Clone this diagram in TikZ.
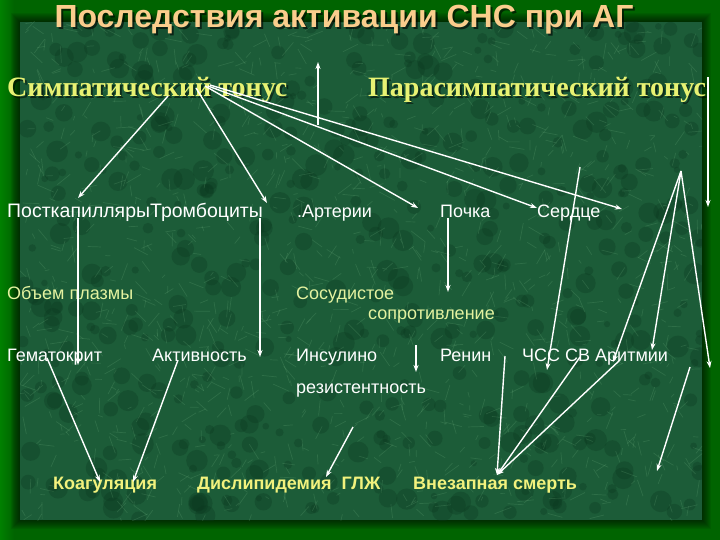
\documentclass[tikz,border=0pt]{standalone}
\usepackage{fontspec}
\setmainfont{Liberation Sans}
\newfontfamily\timesf{Liberation Serif}
\usetikzlibrary{arrows.meta}
\definecolor{bggreen}{RGB}{0,100,0}
\definecolor{marble}{RGB}{28,92,56}
\definecolor{marblelight}{RGB}{120,185,135}
\definecolor{marbledark}{RGB}{10,55,30}
\definecolor{titlec}{RGB}{250,205,140}
\definecolor{tonec}{RGB}{232,242,115}
\definecolor{palec}{RGB}{228,242,160}
\definecolor{boldy}{RGB}{242,242,125}
\tikzset{
  conn/.style={draw=white,line width=1.4pt,-{Stealth[length=7pt,width=5pt]}},
  rowtxt/.style={anchor=base west,inner sep=0pt,text=white,font=\fontsize{18}{20}\selectfont},
  paletxt/.style={rowtxt,text=palec},
  boldtxt/.style={anchor=base west,inner sep=0pt,text=boldy,font=\fontsize{18}{20}\selectfont\bfseries},
  tonetxt/.style={anchor=base west,inner sep=0pt,text=tonec,font=\timesf\fontsize{28}{30}\selectfont\bfseries},
}
\begin{document}
\begin{tikzpicture}[x=1pt,y=-1pt]
\useasboundingbox (0,0) rectangle (720,540);
% background
\fill[bggreen] (0,0) rectangle (720,540);
\shade[left color={rgb,255:red,0;green,128;blue,0},right color=bggreen] (0,0) rectangle (14,540);
\foreach \i in {1,...,9}{
  \fill[black,opacity=0.07] (20-\i,22-\i) rectangle (702+\i,520+\i);
}
% marble panel
\fill[marble] (20,22) rectangle (702,520);
\begin{scope}
\clip (20,22) rectangle (702,520);
\pgfmathsetseed{12}
\foreach \i in {1,...,500}{
  \pgfmathsetmacro\xa{20+682*rnd}
  \pgfmathsetmacro\ya{22+498*rnd}
  \pgfmathsetmacro\rr{3+8*rnd}
  \fill[marbledark,opacity=0.3] (\xa,\ya) circle (\rr);
}
\foreach \i in {1,...,1300}{
  \pgfmathsetmacro\xa{20+682*rnd}
  \pgfmathsetmacro\ya{22+498*rnd}
  \pgfmathsetmacro\ang{360*rnd}
  \pgfmathsetmacro\len{4+14*rnd}
  \draw[marblelight,opacity=0.2,line width=0.7pt] (\xa,\ya) -- ++(\ang:\len);
}
\end{scope}
% title
\node[anchor=base,inner sep=0pt,text=black,opacity=0.6,font=\fontsize{32}{34}\selectfont\bfseries] at (346,30) {Последствия активации СНС при АГ};
\node (title) [anchor=base,inner sep=0pt,text=titlec,font=\fontsize{32}{34}\selectfont\bfseries] at (344,28) {Последствия активации СНС при АГ};
% headings
\node[tonetxt,text=black,opacity=0.5] at (9,99) {Симпатический тонус};
\node (symp) [tonetxt] at (7,97) {Симпатический тонус};
\node[tonetxt,text=black,opacity=0.5] at (370,99) {Парасимпатический тонус};
\node (para) [tonetxt] at (368,97) {Парасимпатический тонус};
% row 2
\node (postk) [rowtxt,font=\fontsize{19.5}{21}\selectfont] at (7,218) {ПосткапиллярыТромбоциты};
\node (arter) [rowtxt] at (297,218) {.Артерии};
\node (pochka) [rowtxt] at (440,218) {Почка};
\node (serdce) [rowtxt] at (537,218) {Сердце};
% row 3
\node (obem) [paletxt] at (7,299) {Объем плазмы};
\node (sosud) [paletxt] at (296,299) {Сосудистое};
\node (sopr) [paletxt] at (368,319) {сопротивление};
% row 4
\node (gemat) [rowtxt] at (7,361) {Гематокрит};
\node (aktiv) [rowtxt] at (152,361) {Активность};
\node (insul) [rowtxt] at (296,361) {Инсулино};
\node (rezist) [rowtxt] at (296,393) {резистентность};
\node (renin) [rowtxt] at (440,361) {Ренин};
\node (chss) [rowtxt] at (522,361) {ЧСС СВ Аритмии};
% bottom
\node (koag) [boldtxt] at (53,489) {Коагуляция};
\node (disl) [boldtxt] at (197,489) {Дислипидемия\ \ ГЛЖ};
\node (vnez) [boldtxt] at (413,489) {Внезапная смерть};
% coordinates
\coordinate (s1) at (168,96);  \coordinate (e1) at (78,198);
\coordinate (s2) at (196,88);  \coordinate (e2) at (267,203);
\coordinate (s3) at (205,86);  \coordinate (e3) at (418,208);
\coordinate (s4) at (208,86);  \coordinate (e4) at (537,208);
\coordinate (s5) at (210,85);  \coordinate (e5) at (622,209);
\coordinate (s6) at (318,125); \coordinate (e6) at (318,62);
\coordinate (s7) at (708,77);  \coordinate (e7) at (708,207);
\coordinate (s8) at (78,218);  \coordinate (e8) at (78,365);
\coordinate (s9) at (260,218); \coordinate (e9) at (260,357);
\coordinate (s10) at (448,218); \coordinate (e10) at (448,292);
\coordinate (s11) at (416,345); \coordinate (e11) at (416,372);
\coordinate (s12) at (580,167); \coordinate (e12) at (547,370);
\coordinate (top) at (681,171);
\coordinate (e13) at (613,362);
\coordinate (e14) at (652,350);
\coordinate (e15) at (710,368);
\coordinate (s16) at (505,356);
\coordinate (s17) at (580,357);
\coordinate (s18) at (620,360);
\coordinate (death) at (497,475);
\coordinate (s19) at (690,367); \coordinate (e19) at (657,471);
\coordinate (s20) at (353,427); \coordinate (e20) at (326,477);
\coordinate (s21) at (47,358);  \coordinate (e21) at (100,482);
\coordinate (s22) at (178,360); \coordinate (e22) at (133,482);
% connectors
\draw[conn] (s1) -- (e1);
\draw[conn] (s2) -- (e2);
\draw[conn] (s3) -- (e3);
\draw[conn] (s4) -- (e4);
\draw[conn] (s5) -- (e5);
\draw[conn] (s6) -- (e6);
\draw[conn] (s7) -- (e7);
\draw[conn] (s8) -- (e8);
\draw[conn] (s9) -- (e9);
\draw[conn] (s10) -- (e10);
\draw[conn] (s11) -- (e11);
\draw[conn] (s12) -- (e12);
\draw[conn] (top) -- (e13);
\draw[conn] (top) -- (e14);
\draw[conn] (top) -- (e15);
\draw[conn] (s16) -- (death);
\draw[conn] (s17) -- (death);
\draw[conn] (s18) -- (death);
\draw[conn] (s19) -- (e19);
\draw[conn] (s20) -- (e20);
\draw[conn] (s21) -- (e21);
\draw[conn] (s22) -- (e22);
\end{tikzpicture}
\end{document}
